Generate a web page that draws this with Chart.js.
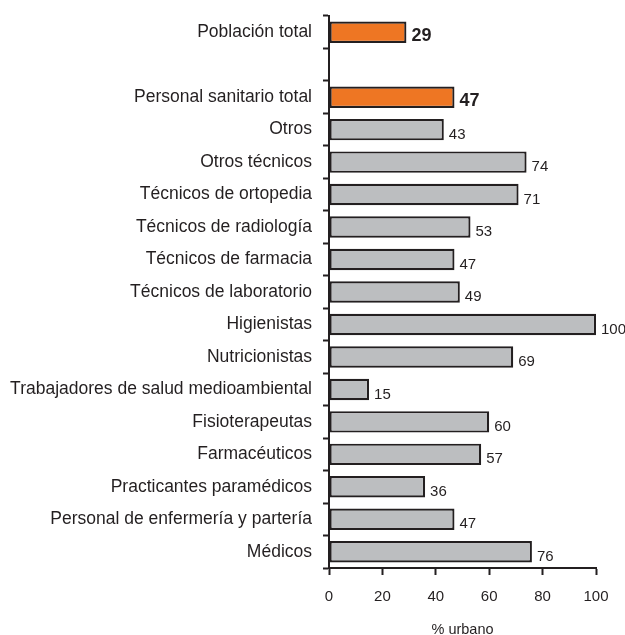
<!DOCTYPE html>
<html>
<head>
<meta charset="utf-8">
<script src="https://cdn.jsdelivr.net/npm/chart.js@4/dist/chart.umd.min.js"></script>
<style>
html,body{margin:0;padding:0;background:#fff;}
#wrap{width:625px;height:635px;position:relative;}
</style>
</head>
<body>
<div id="wrap"><canvas id="c" width="625" height="635"></canvas></div>
<script>
const categories = [
  "Población total", "", "Personal sanitario total", "Otros", "Otros técnicos",
  "Técnicos de ortopedia", "Técnicos de radiología", "Técnicos de farmacia",
  "Técnicos de laboratorio", "Higienistas", "Nutricionistas",
  "Trabajadores de salud medioambiental", "Fisioterapeutas", "Farmacéuticos",
  "Practicantes paramédicos", "Personal de enfermería y partería", "Médicos"
];
const values = [29, null, 47, 43, 74, 71, 53, 47, 49, 100, 69, 15, 60, 57, 36, 47, 76];
const highlighted = [true, false, true, false, false, false, false, false, false, false, false, false, false, false, false, false, false];
const xTicks = [0, 20, 40, 60, 80, 100];
const xTitle = "% urbano";

const ORANGE = "#ee7623", GREY = "#bcbec0", INK = "#231f20";
const FONT = "'Liberation Sans', Arial, Helvetica, sans-serif";

const labelPlugin = {
  id: "valueLabels",
  afterDatasetsDraw(chart) {
    const ctx = chart.ctx;
    const meta = chart.getDatasetMeta(0);
    ctx.save();
    ctx.fillStyle = INK;
    ctx.textAlign = "left";
    ctx.textBaseline = "middle";
    meta.data.forEach((bar, i) => {
      const v = values[i];
      if (v === null || v === undefined) return;
      ctx.font = highlighted[i] ? "bold 18px " + FONT : "15px " + FONT;
      ctx.fillText(String(v), bar.x + 5, bar.y + (highlighted[i] ? 4 : 5));
    });
    ctx.restore();
  }
};

new Chart(document.getElementById("c"), {
  type: "bar",
  data: {
    labels: categories,
    datasets: [{
      data: values,
      backgroundColor: highlighted.map(h => h ? ORANGE : GREY),
      borderColor: INK,
      borderWidth: 2.2,
      borderSkipped: false,
      barPercentage: 0.66,
      categoryPercentage: 1.0
    }]
  },
  options: {
    indexAxis: "y",
    responsive: false,
    animation: false,
    layout: { padding: { top: 16, right: 29, bottom: 0, left: 0 } },
    plugins: { legend: { display: false }, tooltip: { enabled: false } },
    scales: {
      x: {
        min: 0, max: 100,
        afterBuildTicks(scale) { scale.ticks = xTicks.map(v => ({ value: v })); },
        grid: { drawOnChartArea: false, drawTicks: true, tickLength: 7, color: INK, tickWidth: 2 },
        border: { display: true, color: INK, width: 2 },
        ticks: { color: INK, font: { family: FONT, size: 15 }, padding: 13, maxRotation: 0 },
        title: { display: true, text: xTitle, color: INK, font: { family: FONT, size: 14.5 }, padding: { top: 14, bottom: -4 } },
        afterFit(scale) { scale.height = 67; }
      },
      y: {
        grid: { offset: true, drawOnChartArea: false, drawTicks: true, tickLength: 6, color: INK, tickWidth: 2 },
        border: { display: true, color: INK, width: 2 },
        ticks: { color: INK, font: { family: FONT, size: 17.5 }, padding: 11, autoSkip: false },
        afterFit(scale) { scale.width = 329; scale.paddingTop = 0; scale.paddingBottom = 0; }
      }
    }
  },
  plugins: [labelPlugin]
});
</script>
</body>
</html>
